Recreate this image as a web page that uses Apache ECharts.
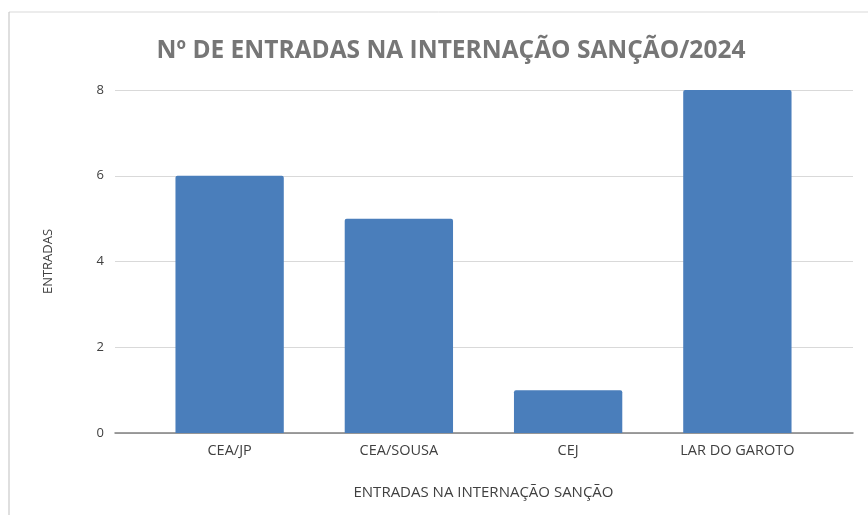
<!DOCTYPE html>
<html>
<head>
<meta charset="utf-8">
<script src="https://cdn.jsdelivr.net/npm/echarts@6/dist/echarts.min.js"></script>
<style>
  html, body { margin: 0; padding: 0; background: #fff; }
  #chart { width: 868px; height: 515px; }
</style>
</head>
<body>
<div id="chart"></div>
<script>
// dados do gráfico
const categorias = ["CEA/JP", "CEA/SOUSA", "CEJ", "LAR DO GAROTO"];
const entradas = [6, 5, 1, 8];
const yTicks = { min: 0, max: 8, interval: 2 };

const fonte = "'Open Sans', 'Liberation Sans', sans-serif";

const chart = echarts.init(document.getElementById('chart'));
const option = {
  backgroundColor: '#fff',
  textStyle: { fontFamily: fonte },
  title: {
    text: 'Nº DE ENTRADAS NA INTERNAÇÃO SANÇÃO/2024',
    left: 446,
    top: 34,
    textAlign: 'center',
    textStyle: { color: '#767676', fontSize: 24.5, fontWeight: 'bold', fontFamily: fonte }
  },
  // moldura da planilha (borda esquerda e superior)
  graphic: [
    { type: 'line', shape: { x1: 9, y1: 12, x2: 868, y2: 12 }, style: { stroke: '#d9d9d9', lineWidth: 1 } },
    { type: 'line', shape: { x1: 9, y1: 12, x2: 9, y2: 515 }, style: { stroke: '#bfbfbf', lineWidth: 1 } }
  ],
  grid: [
    { left: 115, right: 15, top: 90, bottom: 82 },   // eixo y e linhas de grade
    { left: 145, right: 46, top: 90, bottom: 82 }    // barras
  ],
  xAxis: [
    {
      gridIndex: 0, type: 'category', data: categorias,
      axisLine: { show: true, lineStyle: { color: '#808080', width: 1.5 } },
      axisTick: { show: false }, axisLabel: { show: false }
    },
    {
      gridIndex: 1, type: 'category', data: categorias,
      axisLine: { show: false }, axisTick: { show: false },
      axisLabel: { color: '#404040', fontSize: 14.5, margin: 10, fontFamily: fonte },
      name: 'ENTRADAS NA INTERNAÇÃO SANÇÃO',
      nameLocation: 'middle', nameGap: 52,
      nameTextStyle: { color: '#404040', fontSize: 15, fontFamily: fonte }
    }
  ],
  yAxis: [
    {
      gridIndex: 0, type: 'value', min: yTicks.min, max: yTicks.max, interval: yTicks.interval,
      axisLine: { show: false }, axisTick: { show: false },
      axisLabel: { color: '#404040', fontSize: 13, margin: 11, fontFamily: fonte },
      splitLine: { lineStyle: { color: '#d9d9d9', width: 1 } },
      name: 'ENTRADAS', nameLocation: 'middle', nameGap: 60,
      nameTextStyle: { color: '#404040', fontSize: 13, fontFamily: fonte }
    },
    {
      gridIndex: 1, type: 'value', min: yTicks.min, max: yTicks.max, interval: yTicks.interval,
      show: false
    }
  ],
  series: [{
    type: 'bar',
    xAxisIndex: 1, yAxisIndex: 1,
    data: entradas,
    barWidth: '64%',
    itemStyle: { color: '#4a7ebb', borderRadius: [2, 2, 0, 0] }
  }]
};
chart.setOption(option);
</script>
</body>
</html>
